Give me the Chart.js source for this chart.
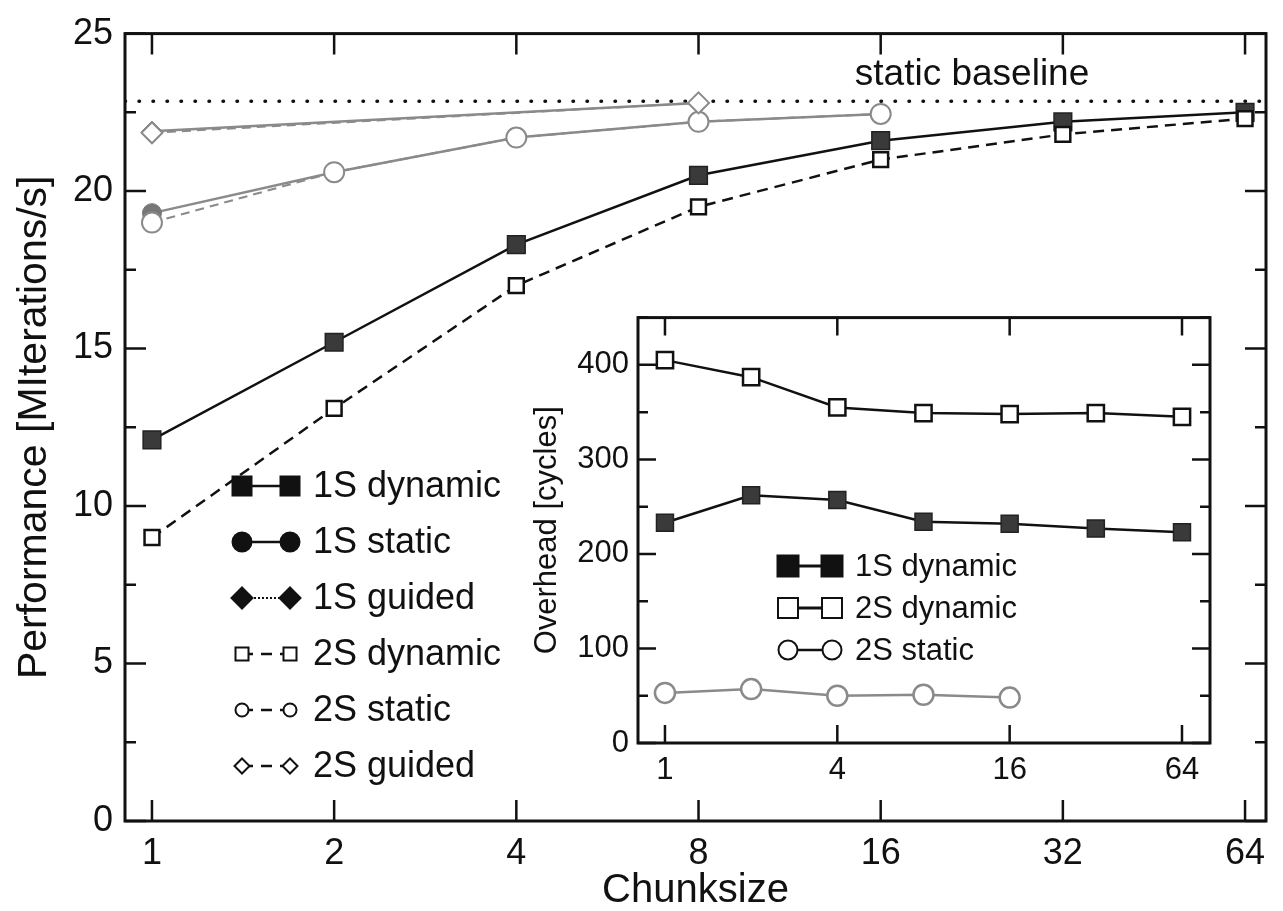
<!DOCTYPE html>
<html>
<head>
<meta charset="utf-8">
<script src="https://cdn.jsdelivr.net/npm/chart.js@4.4.1/dist/chart.umd.min.js"></script>
<style>
  html, body { margin: 0; padding: 0; background: #fff; }
  #wrap { position: relative; width: 1283px; height: 911px; overflow: hidden; }
  #main { position: absolute; left: 0; top: 0; }
  #inset { position: absolute; left: 530px; top: 290px; }
</style>
</head>
<body>
<div id="wrap">
  <canvas id="main" width="1283" height="911"></canvas>
  <canvas id="inset" width="710" height="510"></canvas>
</div>
<script>
// main plot: performance vs chunksize
const chunks = [1, 2, 4, 8, 16, 32, 64]
const perf1SDynamic = [12.1, 15.2, 18.3, 20.5, 21.6, 22.2, 22.5]
const perf1SStatic = [19.3, 20.6, 21.7, 22.2, 22.45, null, null]
const perf1SGuided = [21.9, null, null, 22.8, null, null, null]
const perf2SDynamic = [9.0, 13.1, 17.0, 19.5, 21.0, 21.8, 22.3]
const perf2SStatic = [19.0, 20.6, 21.7, 22.2, 22.45, null, null]
const perf2SGuided = [21.85, null, null, 22.8, null, null, null]
const staticBaseline = 22.85
const perfTicks = [0, 5, 10, 15, 20, 25]

// inset: overhead vs chunksize
const ovhChunks = [1, 2, 4, 8, 16, 32, 64]
const ovh1SDynamic = [233, 262, 257, 234, 232, 227, 223]
const ovh2SDynamic = [405, 387, 355, 349, 348, 349, 345]
const ovh2SStatic = [53, 57, 50, 51, 48, null, null]
const ovhXTicks = [1, 4, 16, 64]
const ovhYTicks = [0, 100, 200, 300, 400]

const FONT = "'Liberation Sans', Arial, Helvetica, sans-serif"
const INK = '#111'
const GRAY = '#8a8a8a'
const DARK = '#3a3a3a'

Chart.defaults.font.family = FONT
Chart.defaults.color = INK

const pts = (xs, ys) => xs.map((c, i) => ys[i] == null ? null : { x: Math.log2(c), y: ys[i] }).filter(Boolean)

function drawMarker(ctx, style, filled, r, x, y) {
  ctx.beginPath()
  if (style === 'rect') ctx.rect(x - r, y - r, 2 * r, 2 * r)
  else if (style === 'rectRot') {
    ctx.moveTo(x, y - r); ctx.lineTo(x + r, y); ctx.lineTo(x, y + r); ctx.lineTo(x - r, y); ctx.closePath()
  } else ctx.arc(x, y, r, 0, Math.PI * 2)
  ctx.fillStyle = filled ? INK : '#fff'
  ctx.fill()
  ctx.lineWidth = 2
  ctx.strokeStyle = INK
  ctx.stroke()
}

// frame round the plot area with inward ticks on all four sides
const frameTicks = {
  id: 'frameTicks',
  afterDatasetsDraw(chart, args, o) {
    const { ctx, chartArea: a, scales: { x, y } } = chart
    ctx.save()
    ctx.strokeStyle = INK
    ctx.lineWidth = o.tickWidth
    ctx.beginPath()
    x.ticks.forEach(t => {
      const px = x.getPixelForValue(t.value)
      ctx.moveTo(px, a.bottom); ctx.lineTo(px, a.bottom - o.major)
      ctx.moveTo(px, a.top); ctx.lineTo(px, a.top + o.major)
    })
    for (let v = y.min; v <= y.max + 1e-9; v += o.yMinor) {
      const py = y.getPixelForValue(v)
      const k = v / o.yMajor
      const len = Math.abs(k - Math.round(k)) < 1e-6 ? o.major : o.minor
      ctx.moveTo(a.left, py); ctx.lineTo(a.left + len, py)
      ctx.moveTo(a.right, py); ctx.lineTo(a.right - len, py)
    }
    ctx.stroke()
    ctx.lineWidth = o.frameWidth
    ctx.strokeRect(a.left, a.top, a.width, a.height)
    ctx.restore()
  }
}

// legend with a marker at both ends of a short line
const markerLegend = {
  id: 'markerLegend',
  afterDraw(chart, args, o) {
    const ctx = chart.ctx
    const items = chart.data.datasets.filter(d => d.legend)
    ctx.save()
    ctx.font = `${o.fontSize}px ${FONT}`
    ctx.textBaseline = 'middle'
    items.forEach((d, i) => {
      const y = o.top + i * o.rowGap
      const lg = d.legend
      ctx.strokeStyle = INK
      ctx.lineWidth = lg.width
      ctx.setLineDash(lg.dash || [])
      ctx.beginPath(); ctx.moveTo(o.x1, y); ctx.lineTo(o.x2, y); ctx.stroke()
      ctx.setLineDash([])
      drawMarker(ctx, d.pointStyle, lg.filled, lg.r, o.x1, y)
      drawMarker(ctx, d.pointStyle, lg.filled, lg.r, o.x2, y)
      ctx.fillStyle = INK
      ctx.fillText(d.label, o.textX, y + 1)
    })
    ctx.restore()
  }
}

const textNote = {
  id: 'textNote',
  afterDraw(chart, args, o) {
    if (!o.text) return
    const { ctx, scales: { x, y } } = chart
    ctx.save()
    ctx.font = `${o.fontSize}px ${FONT}`
    ctx.fillStyle = INK
    ctx.textBaseline = 'middle'
    ctx.fillText(o.text, x.getPixelForValue(Math.log2(o.at)), y.getPixelForValue(o.y))
    ctx.restore()
  }
}

new Chart(document.getElementById('main'), {
  type: 'line',
  data: {
    datasets: [
      {
        label: '1S dynamic', data: pts(chunks, perf1SDynamic), order: 3,
        borderColor: INK, borderWidth: 2.5, pointStyle: 'rect', pointRadius: 12.5,
        pointBackgroundColor: DARK, pointBorderColor: '#222', pointBorderWidth: 1.5,
        legend: { filled: true, r: 9.5, width: 2.5 }
      },
      {
        label: '1S static', data: pts(chunks, perf1SStatic), order: 5,
        borderColor: GRAY, borderWidth: 2.5, pointStyle: 'circle', pointRadius: 9.5,
        pointBackgroundColor: '#777', pointBorderColor: '#777', pointBorderWidth: 1,
        legend: { filled: true, r: 9.5, width: 2.5 }
      },
      {
        label: '1S guided', data: pts(chunks, perf1SGuided), order: 6,
        borderColor: GRAY, borderWidth: 2.5, pointStyle: 'rectRot', pointRadius: 10,
        pointBackgroundColor: '#777', pointBorderColor: '#777', pointBorderWidth: 1,
        legend: { filled: true, r: 10.5, width: 2, dash: [2, 2] }
      },
      {
        label: '2S dynamic', data: pts(chunks, perf2SDynamic), order: 2,
        borderColor: INK, borderWidth: 2.5, borderDash: [11, 7], pointStyle: 'rect', pointRadius: 10.5,
        pointBackgroundColor: '#fff', pointBorderColor: INK, pointBorderWidth: 2.5,
        legend: { filled: false, r: 6.5, width: 2.5, dash: [11, 8] }
      },
      {
        label: '2S static', data: pts(chunks, perf2SStatic), order: 1,
        borderColor: GRAY, borderWidth: 2, borderDash: [9, 6], pointStyle: 'circle', pointRadius: 10,
        pointBackgroundColor: '#fff', pointBorderColor: GRAY, pointBorderWidth: 2,
        legend: { filled: false, r: 6.5, width: 2.5, dash: [11, 8] }
      },
      {
        label: '2S guided', data: pts(chunks, perf2SGuided), order: 0,
        borderColor: GRAY, borderWidth: 2, borderDash: [9, 6], pointStyle: 'rectRot', pointRadius: 10.5,
        pointBackgroundColor: '#fff', pointBorderColor: GRAY, pointBorderWidth: 2,
        legend: { filled: false, r: 7.5, width: 2.5, dash: [11, 8] }
      },
      {
        label: 'static baseline', order: 10,
        data: [{ x: -0.148, y: staticBaseline }, { x: 6.115, y: staticBaseline }],
        borderColor: INK, borderWidth: 3.5, borderDash: [0.5, 13.5], borderCapStyle: 'round', pointRadius: 0
      }
    ]
  },
  options: {
    responsive: false,
    animation: false,
    devicePixelRatio: 1,
    layout: { padding: { top: 23, right: 17, left: 0, bottom: 0 } },
    scales: {
      x: {
        type: 'linear', min: -0.148, max: 6.115,
        afterBuildTicks: s => { s.ticks = chunks.map(c => ({ value: Math.log2(c) })) },
        afterFit: s => { s.height = 90 },
        grid: { display: false, drawTicks: false },
        border: { display: false },
        ticks: { callback: v => String(Math.round(2 ** v)), font: { size: 36 }, color: INK, padding: 11, maxRotation: 0, autoSkip: false },
        title: { display: true, text: 'Chunksize', font: { size: 40, lineHeight: 1 }, color: INK, padding: { top: 0, bottom: 0 } }
      },
      y: {
        min: 0, max: 25,
        afterBuildTicks: s => { s.ticks = perfTicks.map(v => ({ value: v })) },
        afterFit: s => { s.width = 125 },
        grid: { display: false, drawTicks: false },
        border: { display: false },
        ticks: { font: { size: 36 }, color: INK, padding: 12 },
        title: { display: true, text: 'Performance [MIterations/s]', font: { size: 41, lineHeight: 1 }, color: INK, padding: { top: 14, bottom: 0 } }
      }
    },
    plugins: {
      legend: { display: false },
      tooltip: { enabled: false },
      frameTicks: { frameWidth: 3, tickWidth: 2.5, major: 21, minor: 11, yMajor: 5, yMinor: 2.5 },
      markerLegend: { x1: 242, x2: 290, textX: 313, top: 486, rowGap: 56, fontSize: 36 },
      textNote: { text: 'static baseline', at: 14.5, y: 23.7, fontSize: 37 }
    }
  },
  plugins: [frameTicks, markerLegend, textNote]
})

new Chart(document.getElementById('inset'), {
  type: 'line',
  data: {
    datasets: [
      {
        label: '1S dynamic', data: pts(ovhChunks, ovh1SDynamic), order: 1,
        borderColor: INK, borderWidth: 2.5, pointStyle: 'rect', pointRadius: 12,
        pointBackgroundColor: DARK, pointBorderColor: '#222', pointBorderWidth: 1.5,
        legend: { filled: true, r: 10.5, width: 3 }
      },
      {
        label: '2S dynamic', data: pts(ovhChunks, ovh2SDynamic), order: 0,
        borderColor: INK, borderWidth: 2.5, pointStyle: 'rect', pointRadius: 11.5,
        pointBackgroundColor: '#fff', pointBorderColor: INK, pointBorderWidth: 2.5,
        legend: { filled: false, r: 10, width: 3 }
      },
      {
        label: '2S static', data: pts(ovhChunks, ovh2SStatic), order: 2,
        borderColor: GRAY, borderWidth: 2.5, pointStyle: 'circle', pointRadius: 10,
        pointBackgroundColor: '#fff', pointBorderColor: GRAY, pointBorderWidth: 2.5,
        legend: { filled: false, r: 9.5, width: 2.5 }
      }
    ]
  },
  options: {
    responsive: false,
    animation: false,
    devicePixelRatio: 1,
    layout: { padding: { top: 18, right: 30, left: 0, bottom: 0 } },
    scales: {
      x: {
        type: 'linear', min: -0.313, max: 6.325,
        afterBuildTicks: s => { s.ticks = ovhXTicks.map(c => ({ value: Math.log2(c) })) },
        afterFit: s => { s.height = 57 },
        grid: { display: false, drawTicks: false },
        border: { display: false },
        ticks: { callback: v => String(Math.round(2 ** v)), font: { size: 31 }, color: INK, padding: 9, maxRotation: 0, autoSkip: false }
      },
      y: {
        min: 0, max: 450,
        afterBuildTicks: s => { s.ticks = ovhYTicks.map(v => ({ value: v })) },
        afterFit: s => { s.width = 108 },
        grid: { display: false, drawTicks: false },
        border: { display: false },
        ticks: { font: { size: 31 }, color: INK, padding: 9 },
        title: { display: true, text: 'Overhead [cycles]', font: { size: 31, lineHeight: 1 }, color: INK, padding: { top: 2, bottom: 0 } }
      }
    },
    plugins: {
      legend: { display: false },
      tooltip: { enabled: false },
      frameTicks: { frameWidth: 3, tickWidth: 2.5, major: 18, minor: 10, yMajor: 100, yMinor: 50 },
      markerLegend: { x1: 258, x2: 302, textX: 325, top: 276, rowGap: 42, fontSize: 31 }
    }
  },
  plugins: [frameTicks, markerLegend]
})
</script>
</body>
</html>
